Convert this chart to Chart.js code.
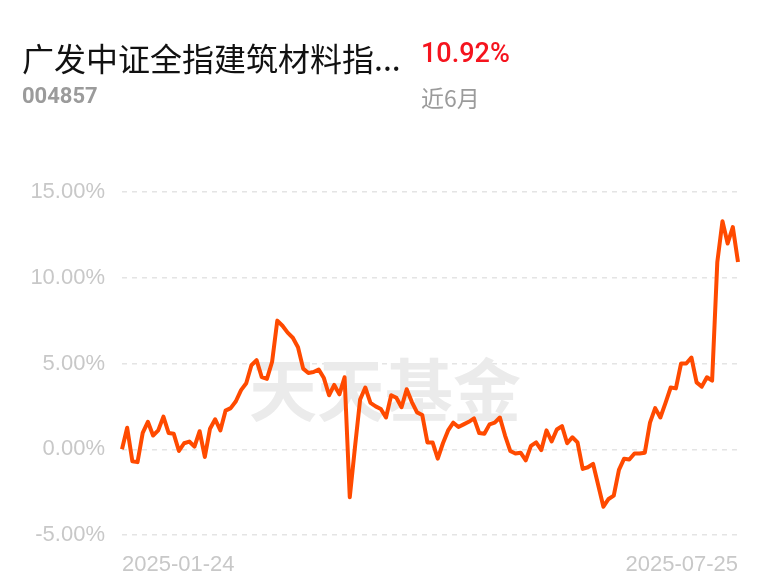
<!DOCTYPE html>
<html>
<head>
<meta charset="utf-8">
<script src="https://cdn.jsdelivr.net/npm/chart.js@4.4.1/dist/chart.umd.min.js"></script>
<style>
  body { margin: 0; background: #fff; }
  #wrap { position: relative; width: 768px; height: 585px; overflow: hidden; }
  #chart { position: absolute; left: 0; top: 0; }
  .txt { position: absolute; white-space: nowrap; }
  #title { left: 22px; top: 41px; font: 32px/32px "Noto Sans CJK SC", sans-serif; color: #111; }
  #ret { left: 421px; top: 40px; font: 500 27px/27px Roboto, sans-serif; color: #f5141e; }
  #code { left: 22px; top: 85px; font: 700 22px/22px Roboto, sans-serif; color: #9b9b9b; }
  #period { left: 421px; top: 86px; font: 23px/23px "Noto Sans CJK SC", sans-serif; color: #9b9b9b; }
</style>
</head>
<body>
<div id="wrap">
  <canvas id="chart" width="768" height="585"></canvas>
  <div class="txt" id="title">广发中证全指建筑材料指...</div>
  <div class="txt" id="ret">10.92%</div>
  <div class="txt" id="code">004857</div>
  <div class="txt" id="period">近6月</div>
</div>
<script>
// x axis shows only the first and last trading day
const xTickLabels = ['2025-01-24', '2025-07-25'];
const yTicks = [-5, 0, 5, 10, 15];

// cumulative return (%) per trading day
const returns = [
  0.0, 1.25, -0.7, -0.75, 0.95, 1.6, 0.8, 1.1, 1.9, 0.95,
  0.9, -0.1, 0.35, 0.45, 0.15, 1.05, -0.45, 1.2, 1.75, 1.1,
  2.25, 2.4, 2.8, 3.45, 3.85, 4.9, 5.2, 4.2, 4.1, 5.1,
  7.5, 7.2, 6.8, 6.5, 5.95, 4.7, 4.45, 4.5, 4.65, 4.15,
  3.15, 3.75, 3.2, 4.2, -2.8, 0.1, 2.9, 3.6, 2.7, 2.5,
  2.35, 1.85, 3.15, 3.0, 2.45, 3.5, 2.75, 2.15, 2.0, 0.4,
  0.4, -0.55, 0.35, 1.1, 1.55, 1.3, 1.45, 1.6, 1.8, 0.95,
  0.9, 1.45, 1.55, 1.85, 0.8, -0.1, -0.25, -0.2, -0.65, 0.2,
  0.4, -0.05, 1.1, 0.45, 1.15, 1.35, 0.35, 0.7, 0.4, -1.15,
  -1.05, -0.85, -2.1, -3.35, -2.9, -2.7, -1.2, -0.55, -0.6, -0.25,
  -0.25, -0.2, 1.55, 2.4, 1.85, 2.7, 3.6, 3.55, 5.0, 5.0,
  5.35, 3.9, 3.65, 4.2, 4.0, 10.9, 13.3, 12.0, 12.95, 10.92
];

const labels = returns.map((v, i) =>
  i === 0 ? xTickLabels[0] : (i === returns.length - 1 ? xTickLabels[1] : ''));

// faint site watermark behind the line
const watermark = {
  id: 'watermark',
  beforeDatasetsDraw(chart) {
    const ctx = chart.ctx;
    ctx.save();
    ctx.font = '700 68px "Noto Sans CJK SC", sans-serif';
    ctx.fillStyle = '#ebebeb';
    ctx.textAlign = 'center';
    ctx.textBaseline = 'middle';
    ctx.fillText('天天基金', 385, 390);
    ctx.restore();
  }
};

const tickFont = { family: '"Liberation Sans", Arial, sans-serif', size: 22 };

new Chart(document.getElementById('chart'), {
  type: 'line',
  data: {
    labels: labels,
    datasets: [{
      data: returns,
      borderColor: '#ff4a00',
      borderWidth: 4,
      pointRadius: 0,
      tension: 0,
      borderJoinStyle: 'round'
    }]
  },
  options: {
    responsive: false,
    animation: false,
    layout: { padding: { top: 192, right: 30, left: 0, bottom: 0 } },
    plugins: { legend: { display: false }, tooltip: { enabled: false } },
    scales: {
      x: {
        grid: { display: false, drawTicks: false },
        border: { display: false },
        afterFit: s => { s.height = 50; },
        ticks: {
          autoSkip: false,
          maxRotation: 0,
          align: 'inner',
          padding: 17,
          color: '#c8c8c8',
          font: tickFont,
          callback: function (v, i) { return labels[i]; }
        }
      },
      y: {
        min: yTicks[0],
        max: yTicks[yTicks.length - 1],
        afterFit: s => { s.width = 122; },
        afterBuildTicks: s => { s.ticks = yTicks.map(v => ({ value: v })); },
        grid: { color: '#e4e4e4', lineWidth: 1.5, drawTicks: false },
        border: { display: false, dash: [5, 5] },
        ticks: {
          padding: 17,
          color: '#c8c8c8',
          font: tickFont,
          callback: v => v.toFixed(2) + '%'
        }
      }
    }
  },
  plugins: [watermark]
});
</script>
</body>
</html>
